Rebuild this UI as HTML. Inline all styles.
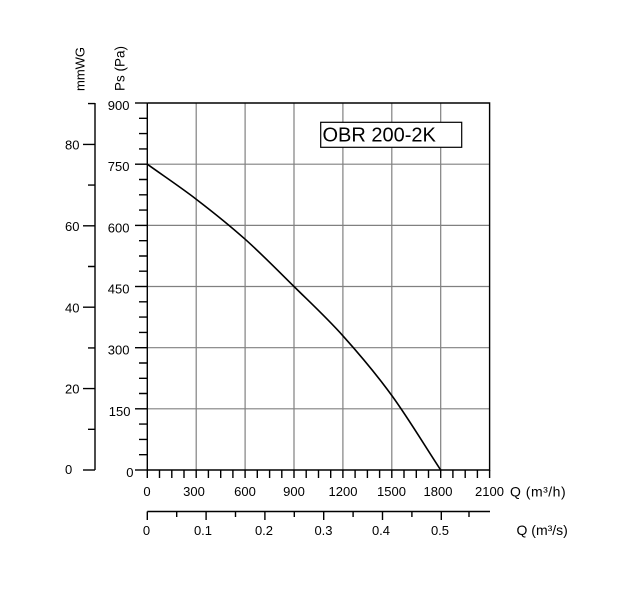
<!DOCTYPE html>
<html><head><meta charset="utf-8"><style>
html,body{margin:0;padding:0;background:#fff;}
svg{display:block;}
text{font-family:"Liberation Sans",Arial,sans-serif;font-size:13px;fill:#000;}
</style></head><body>
<svg width="625" height="593" viewBox="0 0 625 593" xmlns="http://www.w3.org/2000/svg">
<rect width="625" height="593" fill="#fff"/>
<!-- grid -->
<g stroke="#808080" stroke-width="1.2" fill="none">
<line x1="196.2" y1="103" x2="196.2" y2="470"/>
<line x1="245.1" y1="103" x2="245.1" y2="470"/>
<line x1="294" y1="103" x2="294" y2="470"/>
<line x1="342.9" y1="103" x2="342.9" y2="470"/>
<line x1="391.8" y1="103" x2="391.8" y2="470"/>
<line x1="440.7" y1="103" x2="440.7" y2="470"/>
<line x1="147.3" y1="164.2" x2="489.6" y2="164.2"/>
<line x1="147.3" y1="225.4" x2="489.6" y2="225.4"/>
<line x1="147.3" y1="286.5" x2="489.6" y2="286.5"/>
<line x1="147.3" y1="347.7" x2="489.6" y2="347.7"/>
<line x1="147.3" y1="408.8" x2="489.6" y2="408.8"/>
</g>
<!-- frame -->
<g stroke="#000" stroke-width="1.4" fill="none">
<polyline points="147.3,103 147.3,470 489.6,470 489.6,103 147.3,103"/>
<line x1="135" y1="103" x2="147.3" y2="103"/>
<line x1="135" y1="164.2" x2="147.3" y2="164.2"/>
<line x1="135" y1="225.4" x2="147.3" y2="225.4"/>
<line x1="135" y1="286.5" x2="147.3" y2="286.5"/>
<line x1="135" y1="347.7" x2="147.3" y2="347.7"/>
<line x1="135" y1="408.8" x2="147.3" y2="408.8"/>
<line x1="135" y1="470" x2="147.3" y2="470"/>
<path d="M139 118.3H147.3M139 133.6H147.3M139 148.9H147.3
M139 179.5H147.3M139 194.8H147.3M139 210.1H147.3
M139 240.7H147.3M139 256H147.3M139 271.2H147.3
M139 301.8H147.3M139 317.1H147.3M139 332.4H147.3
M139 363H147.3M139 378.3H147.3M139 393.5H147.3
M139 424.1H147.3M139 439.4H147.3M139 454.7H147.3"/>
<line x1="95" y1="103" x2="95" y2="470"/>
<line x1="83" y1="470" x2="95" y2="470"/>
<path d="M83 144.4H95M83 225.8H95M83 307.2H95M83 388.6H95"/>
<path d="M88 103.6H95M88 185.1H95M88 266.5H95M88 347.9H95M88 429.3H95"/>
<path d="M147.3 470V478M159.5 470V478M171.8 470V478M184 470V478M196.2 470V478
M208.4 470V478M220.7 470V478M232.9 470V478M245.1 470V478
M257.3 470V478M269.6 470V478M281.8 470V478M294 470V478
M306.2 470V478M318.5 470V478M330.7 470V478M342.9 470V478
M355.1 470V478M367.4 470V478M379.6 470V478M391.8 470V478
M404 470V478M416.3 470V478M428.5 470V478M440.7 470V478
M452.9 470V478M465.2 470V478M477.4 470V478M489.6 470V478"/>
<line x1="147.3" y1="511.5" x2="490" y2="511.5"/>
<path d="M147.3 511.5V520M206.1 511.5V520M264.9 511.5V520M323.7 511.5V520M382.5 511.5V520M441.3 511.5V520"/>
<path d="M176.7 511.5V517M235.5 511.5V517M294.3 511.5V517M353.1 511.5V517M411.9 511.5V517M469 511.5V517"/>
</g>
<!-- curve -->
<path d="M147.3,164.2 C163.6,175.9 179.9,186.7 196.2,199.2 C212.5,211.7 228.8,224.65 245.1,239.2 C261.4,253.75 277.7,270.4 294,286.5 C310.3,302.6 326.6,317.6 342.9,335.8 C359.2,353.97 375.5,373.1 391.8,395.5 C408.1,417.9 424.4,445.2 440.7,470" fill="none" stroke="#000" stroke-width="1.6"/>
<!-- legend -->
<rect x="320.7" y="122.3" width="141" height="25" fill="#fff" stroke="#000" stroke-width="1.2"/>
<text x="322.5" y="141.5" style="font-size:20px">OBR 200-2K</text>
<!-- axis titles -->
<text transform="translate(84.5,91) rotate(-90)" style="font-size:13px">mmWG</text>
<text transform="translate(124.5,91) rotate(-90)" style="font-size:13.5px">Ps (Pa)</text>
<g text-anchor="end" style="font-size:13.5px">
<text x="129.5" y="110">900</text>
<text x="129.5" y="171.2">750</text>
<text x="129.5" y="232.4">600</text>
<text x="129.5" y="293.5">450</text>
<text x="129.5" y="354.7">300</text>
<text x="130.5" y="415.8">150</text>
<text x="133.5" y="477">0</text>
</g>
<g text-anchor="end">
<text x="79.5" y="149.5">80</text>
<text x="79.5" y="230.9">60</text>
<text x="79.5" y="312.3">40</text>
<text x="79.5" y="393.7">20</text>
</g>
<text x="65" y="474">0</text>
<g text-anchor="middle">
<text x="147" y="496">0</text>
<text x="194" y="496">300</text>
<text x="245" y="496">600</text>
<text x="294" y="496">900</text>
<text x="343" y="496">1200</text>
<text x="391.5" y="496">1500</text>
<text x="438" y="496">1800</text>
<text x="489.5" y="496">2100</text>
<text x="146.5" y="535">0</text>
<text x="203" y="535">0.1</text>
<text x="264" y="535">0.2</text>
<text x="323.5" y="535">0.3</text>
<text x="381" y="535">0.4</text>
<text x="440" y="535">0.5</text>
</g>
<text x="510" y="496.5" style="font-size:14px;letter-spacing:0.5px">Q (m³/h)</text>
<text x="516.5" y="535" style="font-size:14px">Q (m³/s)</text>
</svg>
</body></html>
